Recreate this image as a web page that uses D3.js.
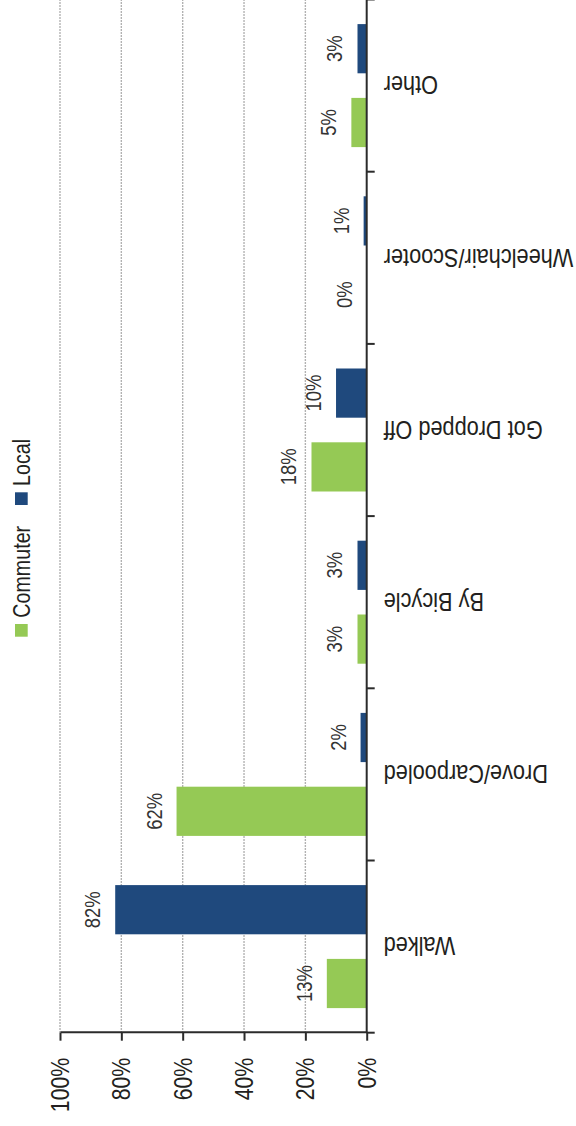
<!DOCTYPE html>
<html>
<head>
<meta charset="utf-8">
<script src="https://cdn.jsdelivr.net/npm/d3@7/dist/d3.min.js"></script>
<style>
  html, body { margin: 0; padding: 0; background: #fff; }
  svg { display: block; }
  text { font-family: "Liberation Sans", Arial, sans-serif; fill: #231f20; }
</style>
</head>
<body>
<svg id="chart" width="576" height="1126"></svg>
<script>
// Travel mode shares, in percent
const categories = ["Walked", "Drove/Carpooled", "By Bicycle", "Got Dropped Off", "Wheelchair/Scooter", "Other"];
const seriesNames = ["Commuter", "Local"];
const commuterValues = [13, 62, 3, 18, 0, 5];
const localValues = [82, 2, 3, 10, 1, 3];
const valueTicks = [0, 20, 40, 60, 80, 100];

const colors = { Commuter: "#95c955", Local: "#1f497d" };
const narrow = 0.82; // horizontal squeeze giving a condensed sans look

// The chart is laid out as a 1126 x 576 column chart, then turned onto the page.
const chartW = 1126;
const svg = d3.select("#chart");
svg.append("rect").attr("width", 576).attr("height", 1126).attr("fill", "#fff");
const g = svg.append("g").attr("transform", `translate(0,${chartW}) rotate(-90)`);

const plotLeft = 93.3, plotRight = 1126.5, plotTop = 60, plotBase = 366.7;

const x = d3.scaleBand().domain(categories).range([plotLeft, plotRight]).padding(0);
const xs = d3.scaleBand().domain(seriesNames).range([0, x.bandwidth()])
  .paddingInner(1 / 3).paddingOuter(1 / 3);
const y = d3.scaleLinear().domain([0, 100]).range([plotBase, plotTop]);

// Dotted gridlines
g.append("g").selectAll("line")
  .data(valueTicks.filter(d => d > 0))
  .join("line")
  .attr("x1", plotLeft).attr("x2", plotRight)
  .attr("y1", d => y(d)).attr("y2", d => y(d))
  .attr("stroke", "#999")
  .attr("stroke-width", 1.4)
  .attr("stroke-dasharray", "1.5,1.5");

// Bars
const rows = categories.map((c, i) => ({ cat: c, Commuter: commuterValues[i], Local: localValues[i] }));
const groups = g.append("g").selectAll("g")
  .data(rows)
  .join("g")
  .attr("transform", d => `translate(${x(d.cat)},0)`);

const cells = groups.selectAll("g")
  .data(d => seriesNames.map(s => ({ s, v: d[s] })))
  .join("g");

cells.append("rect")
  .attr("x", d => xs(d.s))
  .attr("width", xs.bandwidth())
  .attr("y", d => y(d.v))
  .attr("height", d => y(0) - y(d.v))
  .attr("fill", d => colors[d.s]);

cells.append("text")
  .attr("transform", d => `translate(${xs(d.s) + xs.bandwidth() / 2},${y(d.v) - 15}) scale(${narrow},1)`)
  .attr("text-anchor", "middle")
  .attr("font-size", 22.5)
  .style("fill", "#333")
  .text(d => d.v + "%");

// Value axis
const yAxis = g.append("g")
  .attr("transform", `translate(${plotLeft},0)`)
  .call(d3.axisLeft(y).tickValues(valueTicks).tickSize(8).tickSizeOuter(0)
    .tickPadding(17).tickFormat(d => d + "%"));
yAxis.selectAll("path, line").attr("stroke", "#2b2b2b").attr("stroke-width", 2);
yAxis.selectAll("text")
  .attr("x", -25 / narrow)
  .attr("transform", `scale(${narrow},1)`)
  .attr("font-size", 26)
  .style("font-family", "'Liberation Sans', Arial, sans-serif")
  .style("fill", "#231f20");

// Category axis baseline with ticks at band boundaries
const xAxis = g.append("g");
xAxis.append("line")
  .attr("x1", plotLeft).attr("x2", plotRight)
  .attr("y1", plotBase).attr("y2", plotBase)
  .attr("stroke", "#2b2b2b").attr("stroke-width", 2);
const bounds = categories.map(c => x(c)).concat([x.range()[1]]);
xAxis.selectAll("line.tick")
  .data(bounds)
  .join("line")
  .attr("class", "tick")
  .attr("x1", d => d).attr("x2", d => d)
  .attr("y1", plotBase).attr("y2", plotBase + 8)
  .attr("stroke", "#2b2b2b").attr("stroke-width", 2);

xAxis.selectAll("text")
  .data(categories)
  .join("text")
  .attr("transform", d => `translate(${x(d) + x.bandwidth() / 2},${plotBase + 17}) rotate(-90) scale(${narrow},1)`)
  .attr("text-anchor", "end")
  .attr("dy", "0.35em")
  .attr("font-size", 26.5)
  .text(d => d);

// Legend
const legend = g.append("g");
const legendX = [489.3, 621];
seriesNames.forEach((s, i) => {
  legend.append("rect")
    .attr("x", legendX[i]).attr("y", 15)
    .attr("width", 12.7).attr("height", 12.7)
    .attr("fill", colors[s]);
  legend.append("text")
    .attr("transform", `translate(${legendX[i] + 19},30) scale(${narrow},1)`)
    .attr("font-size", 24)
    .text(s);
});
</script>
</body>
</html>
